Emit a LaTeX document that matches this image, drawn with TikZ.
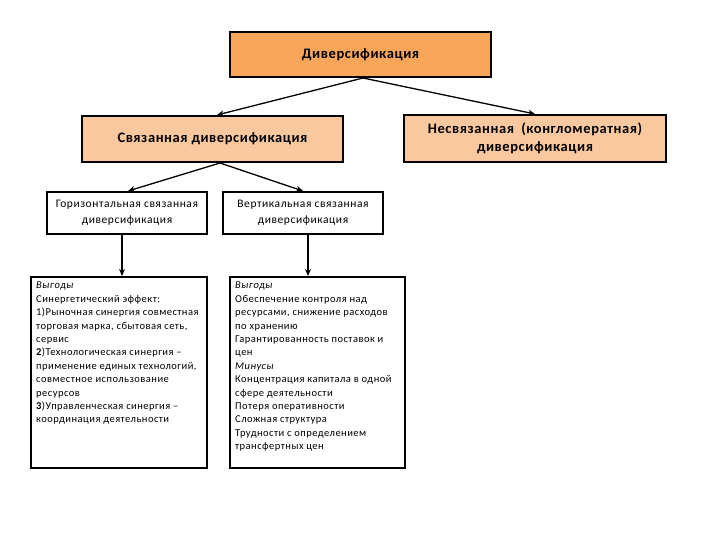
\documentclass[tikz,border=0pt]{standalone}
\usepackage{fontspec}
\setmainfont{Carlito}
\usetikzlibrary{arrows.meta}
\definecolor{topor}{HTML}{F9A65A}
\definecolor{peach}{HTML}{FAC89E}
\tikzset{
  box/.style={draw=black, line width=2pt, inner sep=0pt, align=center},
  bigtxt/.style={font=\fontsize{14.5}{18}\selectfont\bfseries\addfontfeatures{LetterSpace=4}},
  midtxt/.style={font=\fontsize{11.5}{15.5}\selectfont\addfontfeatures{LetterSpace=5}},
  smalltxt/.style={font=\fontsize{10.5}{13.4}\selectfont\addfontfeatures{LetterSpace=4.5}, align=left, inner sep=0pt, anchor=north west},
  arr/.style={draw=black, line width=1.3pt, -{Stealth[length=7pt,width=6pt]}}
}
\begin{document}
\begin{tikzpicture}[x=1pt,y=-1pt]
\useasboundingbox (0,0) rectangle (720,540);
\node[box, fill=topor, minimum width=261, minimum height=45, bigtxt] (d) at (360.5,54.5) {Диверсификация};
\node[box, fill=peach, minimum width=261, minimum height=46, bigtxt] (s) at (212.5,139) {Связанная диверсификация};
\node[box, fill=peach, minimum width=262, minimum height=47, bigtxt] (n) at (535,138.5) {Несвязанная\hspace{0.5em}(конгломератная)\\диверсификация};
\node[box, fill=white, minimum width=160, minimum height=42, midtxt] (h) at (127,213) {Горизонтальная связанная\\диверсификация};
\node[box, fill=white, minimum width=160, minimum height=42, midtxt] (v) at (303,213) {Вертикальная связанная\\диверсификация};
\node[box, fill=white, minimum width=176, minimum height=191] (hb) at (119,372.5) {};
\node[box, fill=white, minimum width=175, minimum height=191] (vb) at (317.5,372.5) {};
\node[smalltxt] (ht) at ([xshift=6pt,yshift=-6pt]hb.north west) {\textit{Выгоды}\\
Синергетический эффект:\\
1)Рыночная синергия совместная\\
торговая марка, сбытовая сеть,\\
сервис\\
\textbf{2}){}Технологическая синергия –\\
применение единых технологий,\\
совместное использование\\
ресурсов\\
\textbf{3}){}Управленческая синергия –\\
координация деятельности};
\node[smalltxt] (vt) at ([xshift=6pt,yshift=-6pt]vb.north west) {\textit{Выгоды}\\
Обеспечение контроля над\\
ресурсами, снижение расходов\\
по хранению\\
Гарантированность поставок и\\
цен\\
\textit{Минусы}\\
Концентрация капитала в одной\\
сфере деятельности\\
Потеря оперативности\\
Сложная структура\\
Трудности с определением\\
трансфертных цен};
\draw[arr] ([xshift=2.5pt]d.south) -- ([xshift=4.5pt]s.north);
\draw[arr] ([xshift=2.5pt]d.south) -- (n.north);
\draw[arr] ([xshift=7.5pt]s.south) -- ([xshift=1pt]h.north);
\draw[arr] ([xshift=7.5pt]s.south) -- (v.north);
\draw[arr] ([xshift=-5pt]h.south) -- ([xshift=-5pt]h.south |- hb.north);
\draw[arr] ([xshift=5pt]v.south) -- ([xshift=5pt]v.south |- vb.north);
\end{tikzpicture}
\end{document}
